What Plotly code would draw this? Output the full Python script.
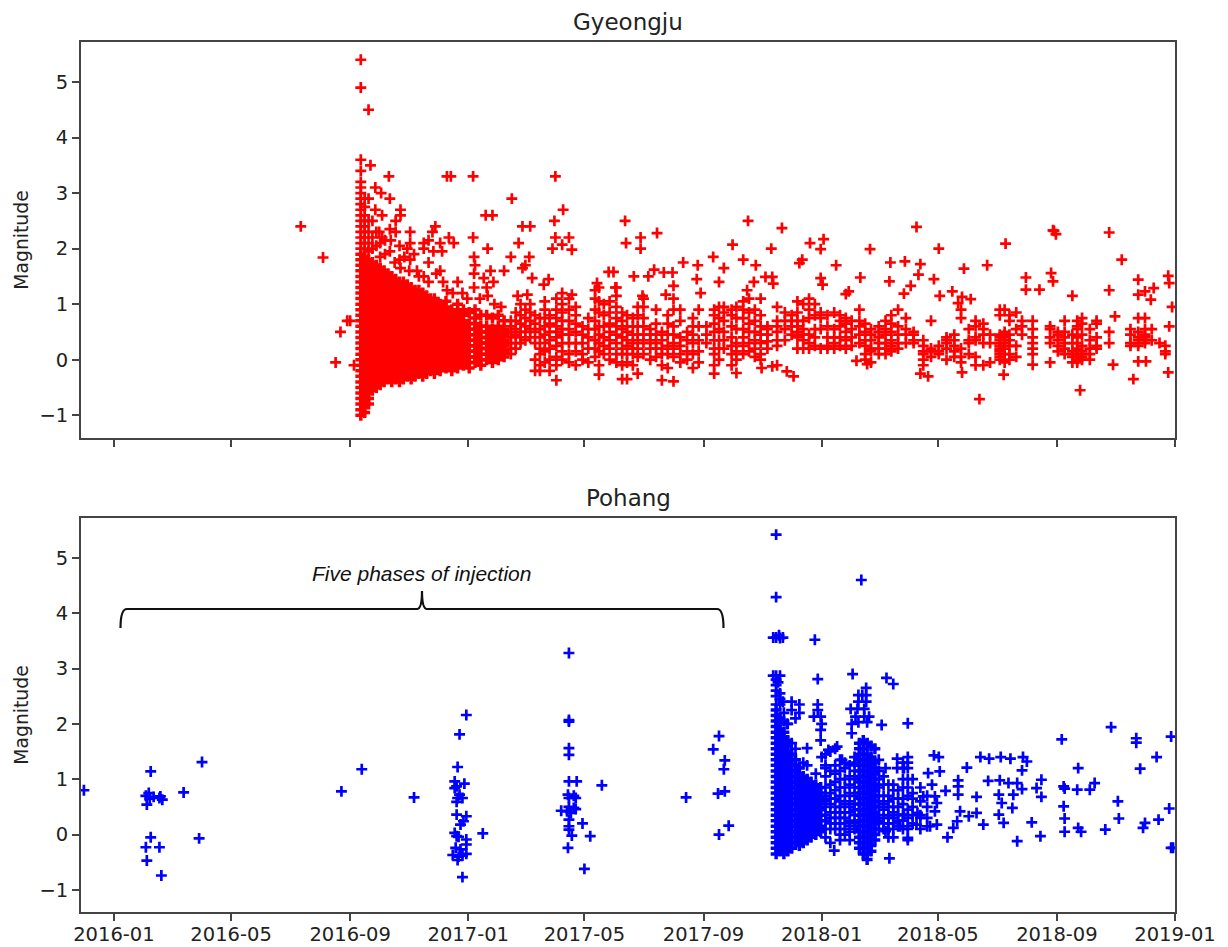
import pandas as pd
import plotly.graph_objects as go

ORIGIN = pd.Timestamp("2016-01-01")

# Day numbers count from 2016-01-01. Magnitudes.
gyeongju_foreshocks = [(193,2.4),(216,1.84),(229,-.05),(234,.5),(241,.7),(244,.7),(248,-.1)]
gyeongju_peak = [(255,5.4),(255,4.9),(263,4.5),(255,3.6),(265,3.5),(255,3.4),(255,3.2),(255,3.1),(255,3.0),(255,2.9),(255,2.8),(255,2.7),(255,2.6),(255,2.5),(255,2.4),(255,2.3),(255,2.2),(255,2.1),(255,2.0),(259,2.9),(259,2.75),(259,2.6),(259,2.5),(259,2.4),(259,2.3),(259,2.2),(259,2.1),(259,2.0),(263,2.5),(263,2.3),(263,2.1),(263,1.95),(267,2.2),(267,2.0),(271,2.3),(271,2.05),(275,2.1),(275,1.85),(280,2.15),(280,1.9),(285,2.35),(285,1.95),(290,1.75),(295,2.05),(295,1.8),(300,1.85),(305,1.6),(310,1.9),(313,1.6),(320,1.5),(325,1.4),(330,1.95),(333,1.55),(340,1.4),(344,1.25),(350,1.2),(360,1.2),(365,1.1),(372,1.3),(378,1.1),(385,1.3),(393,1.0),(400,.95)]
gyeongju_upper = [(284,3.3),(344,3.3),(348,3.3),(371,3.3),(456,3.3),(270,3.1),(276,3.0),(285,2.9),(263,2.9),(411,2.9),(270,2.7),(277,2.6),(296,2.7),(291,2.5),(296,2.6),(464,2.7),(384,2.6),(391,2.6),(455,2.5),(528,2.5),(655,2.5),(267,2.5),(332,2.4),(329,2.3),(422,2.4),(430,2.4),(561,2.28),(274,2.3),(291,2.3),(306,2.3),(277,2.2),(286,2.15),(306,2.1),(320,2.1),(325,2.15),(337,2.1),(346,2.2),(351,2.1),(371,2.2),(418,2.1),(456,2.2),(470,2.2),(473,1.98),(453,2.0),(463,2.07),(529,2.1),(544,2.2),(544,2.0),(639,2.07),(303,2.0),(320,2.0),(339,1.95),(386,2.0),(306,1.8),(325,1.75),(372,1.85),(410,1.85),(429,1.85),(588,1.75),(603,1.7),(619,1.85),(650,1.8),(663,1.7),(630,1.65),(373,1.7),(372,1.55),(389,1.6),(403,1.6),(422,1.65),(425,1.7),(337,1.6),(296,1.65),(315,1.5),(516,1.58),(511,1.58),(537,1.5),(558,1.62),(552,1.5),(568,1.57),(577,1.57),(578,1.33),(602,1.45),(625,1.4),(661,1.4),(654,1.25),(432,1.47),(449,1.45),(444,1.35),(499,1.38),(518,1.3),(355,1.4),(382,1.47),(392,1.4),(570,1.17),(578,1.1),(606,1.2),(463,1.2),(473,1.17),(417,1.15),(427,1.17),(386,1.15),(546,1.15)]
gyeongju_late = [(690,2.37),(679,2.0),(719,2.1),(733,2.17),(730,1.99),(711,1.8),(708,1.74),(746,1.7),(781,1.99),(829,2.39),(852,2.0),(802,1.75),(817,1.77),(833,1.72),(831,1.53),(921,2.09),(902,1.7),(878,1.64),(847,1.45),(771,1.48),(801,1.41),(730,1.47),(732,1.35),(673,1.49),(680,1.49),(681,1.37),(759,1.23),(756,1.18),(823,1.33),(816,1.19),(853,1.15),(866,1.23),(876,1.13),(885,1.09),(872,1.02),(942,1.48),(942,1.26),(956,1.26),(971,2.32),(973,2.26),(970,2.33),(968,1.56),(970,1.41),(990,1.15),(1028,2.29),(1041,1.8),(1028,1.25),(1058,1.44),(1074,1.29),(1065,1.23),(1058,1.17),(1071,1.08),(1089,1.51),(1090,1.38),(1093,.95),(1090,.6),(1089,-.23),(1053,-.35),(1058,-.03),(1066,-.03),(1032,-.09),(998,-.55),(894,-.71),(841,-.3),(833,-.25),(702,-.3),(695,-.21),(680,-.12),(669,-.15),(876,-.23),(919,-.27),(949,-.09),(767,-.02),(778,-.08),(1034,.78)]

gyeongju_dense_days = [255,259,263,267,271,275,279,283,287,291,295,299,303,307,311,315,319,323,327,331,337,343,349,355,361,367,373,379,385,391,397,403]
gyeongju_dense_mags = [
[-1.0,-.9,-.8,-.7,-.6,-.5,-.4,-.3,-.2,-.1,0,.1,.2,.3,.4,.5,.6,.7,.8,.9,1.0,1.1,1.2,1.3,1.4,1.5,1.6,1.7,1.8,1.9],
[-.95,-.85,-.75,-.65,-.55,-.45,-.35,-.25,-.15,-.05,.05,.15,.25,.35,.45,.55,.65,.75,.85,.95,1.05,1.15,1.25,1.35,1.45,1.55,1.65,1.75,1.85],
[-.8,-.7,-.6,-.5,-.4,-.3,-.2,-.1,0,.1,.2,.3,.4,.5,.6,.7,.8,.9,1.0,1.1,1.2,1.3,1.4,1.5,1.6,1.7,1.8],
[-.55,-.45,-.35,-.25,-.15,-.05,.05,.15,.25,.35,.45,.55,.65,.75,.85,.95,1.05,1.15,1.25,1.35,1.45,1.55,1.65,1.75],
[-.5,-.4,-.3,-.2,-.1,0,.1,.2,.3,.4,.5,.6,.7,.8,.9,1.0,1.1,1.2,1.3,1.4,1.5,1.6,1.7],
[-.45,-.35,-.25,-.15,-.05,.05,.15,.25,.35,.45,.55,.65,.75,.85,.95,1.05,1.15,1.25,1.35,1.45,1.55,1.65],
[-.4,-.3,-.2,-.1,0,.1,.2,.3,.4,.5,.6,.7,.8,.9,1.0,1.1,1.2,1.3,1.4,1.5,1.6],
[-.35,-.25,-.15,-.05,.05,.15,.25,.35,.45,.55,.65,.75,.85,.95,1.05,1.15,1.25,1.35,1.45,1.55],
[-.4,-.3,-.2,-.1,0,.1,.2,.3,.4,.5,.6,.7,.8,.9,1.0,1.1,1.2,1.3,1.4,1.5],
[-.35,-.25,-.15,-.05,.05,.15,.25,.35,.45,.55,.65,.75,.85,.95,1.05,1.15,1.25,1.35,1.45],
[-.4,-.3,-.2,-.1,0,.1,.2,.3,.4,.5,.6,.7,.8,.9,1.0,1.1,1.2,1.3,1.4],
[-.35,-.25,-.15,-.05,.05,.15,.25,.35,.45,.55,.65,.75,.85,.95,1.05,1.15,1.25,1.35,1.4],
[-.3,-.2,-.1,0,.1,.2,.3,.4,.5,.6,.7,.8,.9,1.0,1.1,1.2,1.3,1.35],
[-.35,-.25,-.15,-.05,.05,.15,.25,.35,.45,.55,.65,.75,.85,.95,1.05,1.15,1.25,1.3],
[-.3,-.2,-.1,0,.1,.2,.3,.4,.5,.6,.7,.8,.9,1.0,1.1,1.2,1.25],
[-.25,-.15,-.05,.05,.15,.25,.35,.45,.55,.65,.75,.85,.95,1.05,1.15,1.25],
[-.3,-.2,-.1,0,.1,.2,.3,.4,.5,.6,.7,.8,.9,1.0,1.1,1.2],
[-.25,-.15,-.05,.05,.15,.25,.35,.45,.55,.65,.75,.85,.95,1.05,1.15],
[-.2,-.1,0,.1,.2,.3,.4,.5,.6,.7,.8,.9,1.0,1.1],
[-.25,-.15,-.05,.05,.15,.25,.35,.45,.55,.65,.75,.85,.95,1.05,1.1],
[-.2,-.1,0,.1,.2,.3,.4,.5,.6,.7,.8,.9,1.0],
[-.15,-.05,.05,.15,.25,.35,.45,.55,.65,.75,.85,.95,1.05],
[-.2,-.1,0,.1,.2,.3,.4,.5,.6,.7,.8,.9],
[-.15,-.05,.05,.15,.25,.35,.45,.55,.65,.75,.85,1.0],
[-.1,0,.1,.2,.3,.4,.5,.6,.7,.8,.9],
[-.15,-.05,.05,.15,.25,.35,.45,.55,.65,.85],
[-.05,.05,.15,.25,.35,.45,.55,.65,.75,.9],
[-.1,0,.1,.2,.3,.4,.5,.6,.8],
[0,.1,.2,.3,.4,.5,.6,.8],
[-.05,.05,.15,.25,.35,.45,.55,.75],
[0,.1,.2,.3,.4,.5,.6,.8],
[.05,.15,.25,.35,.45,.55,.7],
]
gyeongju_tail_days = [410,415,420,425,430,435,440,445,450,457,463,470,477,484,490,497,501,506,512,519,525,530,536,541,547,554,560,566,572,578,585,592,598,604,612,620,625,630,638,643,650,656,662,668,675,685,693,700,706,712,718,724,730,737,744,750,756,762,770,776,782,790,797,803,810,818,826,836,844,852,860,868,875,883,890,898,905,915,920,925,932,938,949,967,975,982,990,995,1000,1008,1015,1028,1050,1058,1065,1072,1080,1086]
gyeongju_tail_mags = [
[.1,.2,.3,.4,.5,.6,.7],[.2,.3,.45,.55,.7,.85],[.3,.4,.5,.65,.8,1.0],[.35,.5,.6,.75,.9],[.4,.55,.7,.85,1.0],
[-.2,0,.3,.5,.65,.8],[-.2,-.1,.1,.2,.4,.55,.75],[-.05,.15,.3,.45,.6,.75,.9,1.05],[-.2,0,.2,.35,.5,.65,.8],[-.37,-.1,.05,.25,.4,.5,.6,.75,.9,1.1],
[0,.15,.3,.45,.55,.7,.85,1.0],[-.05,.1,.3,.45,.55,.7,.9,1.1],[-.1,.15,.3,.5,.65,.8,.95],[0,.1,.3,.45,.6],[-.05,.2,.4,.55,.75],
[.05,.2,.35,.55,.7,.9,1.1,1.25],[-.27,-.1,.15,.3,.45,.6,.85,1.05,1.3],[.1,.25,.4,.6,.8,1.0],[0,.2,.35,.5,.65,.85,1.05],[-.05,.1,.3,.45,.6,.75,.95,1.15,1.3],
[-.35,-.1,.1,.2,.4,.55,.7,.85],[-.35,-.05,.1,.25,.35,.5,.6,.8],[-.1,.1,.2,.3,.45,.6,.75],[-.25,.05,.2,.35,.45,.6,.8,.95],[.1,.3,.45,.6,.75,.95,1.1],
[0,.2,.35,.45,.55],[.05,.2,.3,.45,.65,.9],[-.37,-.1,.1,.2,.35,.5],[-.15,.1,.25,.45,.65,.8],[-.39,.05,.2,.3,.45,.6,.9],
[-.05,.1,.25,.4,.7,.9],[0,.15,.35,.5],[-.15,.1,.3,.45,.6,.75],[-.05,.15,.35,.6,.9],[.3,.45,.6],
[-.25,-.1,.1,.2,.35,.5,.65,.8,.9],[0,.2,.35,.55,.75,.95],[.2,.35,.5,.7,.85,.95],[-.1,.1,.25,.4,.6,.8,.9],[-.24,0,.15,.3,.55,.75,.95],
[.1,.25,.4,.55,.75,.9,1.05],[.15,.3,.5,.65,.85,1.1],[.05,.2,.35,.5,.7,.9],[0,.1,.3,.45,.6,.8,1.1],
[.2,.33,.45,.55,.6],[-.1,.25,.35,.5,.6,.7,.95],[.35,.55,.7,.85],[.45,.6,.7,.8],[.2,.4,.5,.6,.7,.85,1.05],
[.2,.35,.45,.55,.7,1.0],[.2,.3,.45,.75,.9,1.1],[.25,.4,.55,.8,1.0],[.2,.55,.75,.85],[.2,.25,.4,.6,.8],
[.2,.3,.4,.55,.85],[.25,.4,.6,.7,.8],[.2,.35,.5,.65,.75],[.25,.4,.55,.7],[.3,.45,.6,.7,.9],
[0,.1,.25,.35,.5,.65],[-.05,.15,.2,.35,.45,.55],[.1,.2,.3,.4,.5,.6],[.1,.2,.3,.45,.55,.7],[.15,.25,.35,.5,.65,.8],
[.2,.3,.45,.6,.9],[.3,.45,.55,.75],[.3,.35,.45,.5],[-.1,0,.1,.15,.25,.35],[.05,.15,.2,.7],
[.1,.15,.25],[0,.2,.3,.35,.4],[.05,.15,.25,.35,.45],[-.05,.05,.2,.75,.9],[.1,.3,.35,.55],
[-.1,.05,.35,.4,.6,.7],[-.1,.3,.45,.55,.65],[-.05,.3,.45],[0,.05,.1,.15,.2,.25,.3,.35,.4,.45,.8,.9],[-.05,.1,.2,.3,.35,.4,.45,.5,.9],
[0,.1,.25,.35,.45,.7,.8],[.05,.25,.55,.85],[.45,.6,.7],[.1,.2,.3,.4,.55,.7],[-.05,.3,.4,.55,.6],
[.15,.25,.35,.45,.5],[.1,.2,.3,.4,.5,.7],[-.05,.05,.1,.15,.3,.45],[-.05,0,.05,.1,.2,.3,.4,.55,.6,.7],[0,.05,.1,.15,.25,.45,.65,.75],
[0,.1,.2,.35,.55],[.2,.25,.4,.65,.7],[.3,.5],[.25,.3,.45,.55],[.25,.3,.35,.4,.5,.75],
[.3,.35,.4,.45,.55,.75],[.35,.55],[.3],[.1,.15,.25],
]

pohang_injection = [(-31,.8),(38,1.14),(33,.7),(37,.65),(41,.68),(36,.75),(48,.69),(50,.63),(47,.66),(34,.54),(38,-.05),(33,-.23),(47,-.23),(34,-.47),(49,-.74),(72,.76),(91,1.31),(88,-.07),(235,.78),(256,1.18),(310,.67),
(364,2.16),(357,1.81),(355,1.22),(352,.96),(354,.87),(362,.92),(352,.84),(357,.72),(355,.66),(360,.66),(354,.59),(354,.36),(364,.33),(361,.24),(358,.18),(352,.03),(381,.02),(356,-.04),(354,-.03),(364,-.09),(364,-.18),(353,-.24),(358,-.27),(364,-.35),(350,-.37),(356,-.4),(360,-.38),(355,-.46),(360,-.77),
(470,3.28),(470,2.04),(470,2.07),(470,1.56),(470,1.44),(470,.96),(478,.96),(504,.89),(469,.72),(475,.7),(477,.66),(470,.66),(470,.5),(475,.48),(462,.43),(477,.46),(468,.42),(472,.39),(470,.27),(484,.2),(470,.15),(470,.09),(473,-.02),(492,-.03),(469,-.24),(486,-.62),
(591,.67),(625,1.78),(619,1.54),(631,1.34),(630,1.18),(631,.78),(624,.74),(635,.16),(625,0)]
pohang_upper = [(684,5.42),(684,4.29),(681,3.56),(684,3.56),(687,3.6),(688,3.55),(691,3.56),(724,3.52),(772,4.6),(684,2.87),(681,2.87),(688,2.87),(684,2.8),(686,2.75),(727,2.81),(763,2.9),(798,2.83),(805,2.72),(820,2.01),(793,1.98),(777,2.65),(769,2.52),(777,2.52),(773,2.52),(769,2.4),(777,2.4),(761,2.27),(768,2.27),(775,2.27),(766,2.13),(775,2.13),(780,2.13),(762,2.0),(769,2.03),(778,2.03),(762,1.83),(727,2.35),(727,2.25),(723,2.13),(730,2.13),(731,2.0),(730,1.89),(730,1.7),(700,2.4),(708,2.35),(708,2.2),(688,2.55),(695,2.0),(684,2.7),(688,2.45),(691,2.4),(684,2.35),(692,2.2),(684,2.5),(684,2.6),(700,2.25),(704,2.1),(696,2.0),(688,2.35),(692,2.05),(700,1.65),(704,1.55),(712,1.3),(716,1.25),(725,1.1),(735,1.25),(716,1.56),(747,1.59),(738,1.53),(731,1.4),(752,1.35),(801,-.43),(744,-.29),(820,1.4),(809,1.37),(816,1.2),(809,1.2),(797,1.2),(830,.39),(816,.36),(829,.18),(812,.15),(797,.06)]
pohang_late = [(841,1.11),(845,.9),(848,.69),(850,.57),(848,.42),(843,.15),(850,.18),(836,.69),(820,-.06),(847,1.43),(852,1.4),(853,1.14),(859,.79),(861,-.05),(872,.98),(872,.87),(872,.72),(874,.42),(871,.24),(867,.12),(881,1.21),(891,.68),(883,.33),(891,.39),(898,.18),(895,1.4),(904,1.37),(916,1.4),(926,1.37),(939,1.4),(943,1.32),(938,1.16),(903,.97),(915,.98),(924,.93),(933,.93),(938,.82),(914,.72),(917,.57),(929,.72),(928,.48),(914,.36),(919,.21),(933,-.12),(948,.22),(957,-.03),(953,.84),(958,.99),(958,.68),(979,1.72),(996,1.2),(981,.87),(982,.83),(995,.81),(1008,.81),(1013,.93),(981,.51),(982,.29),(982,.05),(996,.12),(999,.05),(1024,.09),(1037,.6),(1038,.29),(1056,1.74),(1056,1.66),(1030,1.94),(1077,1.4),(1060,1.19),(1092,1.77),(1090,.47),(1079,.27),(1065,.21),(1063,.12),(1094,-.24),(1092,-.24)]

pohang_dense_days = [684,688,692,696,700,704,708,712,716,720,725,730,770,774,778,782,786]
pohang_dense_mags = [
[-.35,-.25,-.15,-.05,.05,.15,.25,.35,.45,.55,.65,.75,.85,.95,1.05,1.15,1.25,1.35,1.45,1.55,1.65,1.75,1.85,1.95,2.05,2.15,2.25],
[-.3,-.2,-.1,0,.1,.2,.3,.4,.5,.6,.7,.8,.9,1.0,1.1,1.2,1.3,1.4,1.5,1.6,1.7,1.8,1.9,2.0,2.1],
[-.35,-.25,-.15,-.05,.05,.15,.25,.35,.45,.55,.65,.75,.85,.95,1.05,1.15,1.25,1.35,1.45,1.55,1.65,1.75,1.85],
[-.3,-.2,-.1,0,.1,.2,.3,.4,.5,.6,.7,.8,.9,1.0,1.1,1.2,1.3,1.4,1.5,1.6,1.7],
[-.25,-.15,-.05,.05,.15,.25,.35,.45,.55,.65,.75,.85,.95,1.05,1.15,1.25,1.35,1.45],
[-.15,-.05,.05,.15,.25,.35,.45,.55,.65,.75,.85,.95,1.05,1.15,1.25,1.35],
[-.2,-.1,0,.1,.2,.3,.4,.5,.6,.7,.8,.9,1.0,1.1,1.2],
[-.15,-.05,.05,.15,.25,.35,.45,.55,.65,.75,.85,.95,1.05],
[-.1,0,.1,.2,.3,.4,.5,.6,.7,.8,.9,1.0],
[-.05,.05,.15,.25,.35,.45,.55,.65,.75,.85,.95],
[0,.1,.2,.3,.4,.5,.6,.7,.8,.9],
[.05,.15,.25,.35,.45,.55,.65,.75,.85],
[-.25,-.15,-.05,.05,.15,.25,.35,.45,.55,.65,.75,.85,.95,1.05,1.15,1.25,1.35,1.45,1.55,1.65],
[-.35,-.25,-.15,-.05,.05,.15,.25,.35,.45,.55,.65,.75,.85,.95,1.05,1.15,1.25,1.35,1.45,1.55,1.7],
[-.45,-.35,-.25,-.15,-.05,.05,.15,.25,.35,.45,.55,.65,.75,.85,.95,1.05,1.15,1.25,1.35,1.45,1.65],
[-.3,-.2,-.1,0,.1,.2,.3,.4,.5,.6,.7,.8,.9,1.0,1.1,1.2,1.3,1.4,1.6],
[-.1,0,.1,.2,.3,.4,.5,.6,.7,.8,.9,1.0,1.1,1.2,1.3,1.55],
]
pohang_tail_days = [735,740,745,750,755,760,765,790,795,800,805,810,815,820,825,833,840]
pohang_tail_mags = [
[-.05,.1,.25,.35,.5,.6,.7,.85,1.05,1.2,1.45],
[-.15,.1,.2,.3,.4,.55,.65,.75,.9,1.15,1.5],
[.1,.2,.3,.4,.5,.65,.8,.95,1.1,1.25,1.55],
[-.1,0,.1,.2,.3,.4,.5,.6,.7,.85,1.0,1.15,1.35],
[0,.1,.2,.3,.4,.55,.7,.85,1.0,1.2,1.3],
[-.1,.05,.15,.25,.4,.5,.6,.75,.9,1.05,1.25],
[.1,.2,.35,.45,.55,.7,.85,1.0,1.15,1.3,1.4],
[.1,.25,.35,.5,.6,.7,.85,1.0,1.15,1.35],
[.1,.2,.3,.45,.55,.7,.9,1.05],
[-.05,.1,.2,.3,.35,.5,.6,.7,.9],
[-.05,.1,.2,.3,.4,.5,.65,.8,.9],
[.15,.25,.35,.5,.65,.8],
[.1,.25,.35,.55,.65,.85,1.0,1.2,1.3],
[-.1,.1,.15,.3,.45,.7,.85,1.0,1.2,1.3],
[.2,.35,.5,.65,.75,1.0],
[.1,.3,.35,.6,.85],
[.15,.3,.5,.7],
]

tick_dates = ["2016-01-01","2016-05-01","2016-09-01","2017-01-01","2017-05-01","2017-09-01","2018-01-01","2018-05-01","2018-09-01","2019-01-01"]
tick_labels = ["2016-01","2016-05","2016-09","2017-01","2017-05","2017-09","2018-01","2018-05","2018-09","2019-01"]
y_ticks = [-1,0,1,2,3,4,5]


def points_xy(point_lists):
    days, mags = [], []
    for pts in point_lists:
        for d, m in pts:
            days.append(d)
            mags.append(m)
    return days, mags


def columns_xy(col_days, col_mags):
    days, mags = [], []
    for d, col in zip(col_days, col_mags):
        days.extend([d] * len(col))
        mags.extend(col)
    return days, mags


def as_dates(days):
    return ORIGIN + pd.to_timedelta(days, unit="D")


def marker(color, width):
    return dict(symbol="cross-thin", size=7.8, color=color, line=dict(color=color, width=width))


RED, BLUE = "#ff0000", "#0000ff"
fig = go.Figure()


def add(days, mags, color, width, xa, ya):
    fig.add_trace(go.Scatter(x=as_dates(days), y=mags, mode="markers", marker=marker(color, width), xaxis=xa, yaxis=ya))


add(*columns_xy(gyeongju_dense_days, gyeongju_dense_mags), RED, 3.5, "x", "y")
add(*columns_xy(gyeongju_tail_days, gyeongju_tail_mags), RED, 2.7, "x", "y")
add(*points_xy([gyeongju_foreshocks, gyeongju_peak, gyeongju_upper, gyeongju_late]), RED, 2.7, "x", "y")
add(*columns_xy(pohang_dense_days, pohang_dense_mags), BLUE, 3.5, "x2", "y2")
add(*columns_xy(pohang_tail_days, pohang_tail_mags), BLUE, 2.7, "x2", "y2")
add(*points_xy([pohang_injection, pohang_upper, pohang_late]), BLUE, 2.7, "x2", "y2")

X_RANGE = ["2015-11-28", "2019-01-01"]
AX = dict(showline=True, mirror=True, linecolor="#444444", linewidth=1.7, ticks="outside", ticklen=7,
          tickwidth=1.5, tickcolor="#444444", showgrid=False, zeroline=False, automargin=False,
          tickfont=dict(family="DejaVu Sans", size=19.5, color="#222222"))
YT = dict(text="Magnitude", font=dict(family="DejaVu Sans", size=18.8, color="#222222"), standoff=6)

L, R, T, B = 81, 1175, 42, 912
fx = lambda v: (v - L) / (R - L)
fy = lambda v: (B - v) / (B - T)

fig.update_layout(
    width=1228, height=947, margin=dict(l=L, r=1228 - R, t=T, b=947 - B, pad=0),
    paper_bgcolor="white", plot_bgcolor="white", showlegend=False,
    xaxis=dict(AX, type="date", range=X_RANGE, tickvals=tick_dates, ticktext=[""] * len(tick_dates), domain=[0, 1], anchor="y"),
    xaxis2=dict(AX, type="date", range=X_RANGE, tickvals=tick_dates, ticktext=tick_labels, domain=[0, 1], anchor="y2", tickangle=0, ticklabelstandoff=-3),
    yaxis=dict(AX, range=[-1.41, 5.72], tickvals=y_ticks, title=YT, domain=[fy(438), 1], anchor="x"),
    yaxis2=dict(AX, range=[-1.40, 5.72], tickvals=y_ticks, title=YT, domain=[0, fy(518)], anchor="x2"),
    annotations=[
        dict(text="Gyeongju", xref="paper", yref="paper", x=fx(628), y=fy(22), showarrow=False, xanchor="center", yanchor="middle",
             font=dict(family="DejaVu Sans", size=23, color="#222222")),
        dict(text="Pohang", xref="paper", yref="paper", x=fx(628), y=fy(498), showarrow=False, xanchor="center", yanchor="middle",
             font=dict(family="DejaVu Sans", size=23, color="#222222")),
        dict(text="<i>Five phases of injection</i>", xref="paper", yref="paper", x=fx(421.5), y=fy(573), showarrow=False,
             xanchor="center", yanchor="middle", font=dict(family="Liberation Sans", size=21, color="#111111")),
    ],
    shapes=[dict(
        type="path", xref="paper", yref="paper", line=dict(color="#111111", width=2.2),
        path=(f"M {fx(120.5)} {fy(628)} Q {fx(120.5)} {fy(609)} {fx(127)} {fy(609)} "
              f"L {fx(417)} {fy(609)} Q {fx(422)} {fy(609)} {fx(422)} {fy(591)} "
              f"Q {fx(422)} {fy(609)} {fx(427)} {fy(609)} L {fx(717)} {fy(609)} "
              f"Q {fx(723.5)} {fy(609)} {fx(723.5)} {fy(628)}"),
    )],
)

fig.write_html("out.html", config=dict(displayModeBar=False),
               post_script="document.body.style.margin='0';")
